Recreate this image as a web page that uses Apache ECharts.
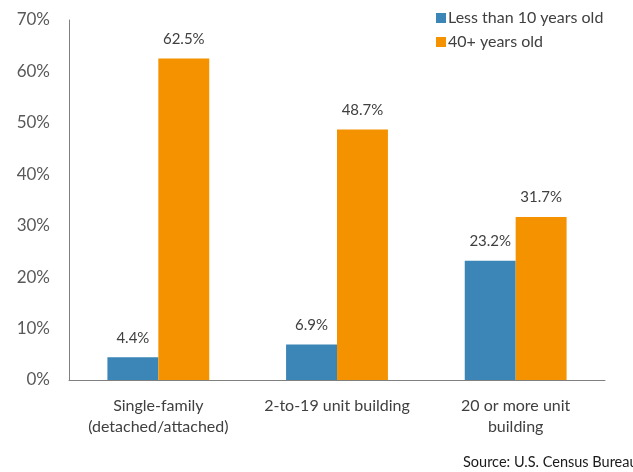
<!DOCTYPE html>
<html>
<head>
<meta charset="utf-8">
<script src="https://cdn.jsdelivr.net/npm/echarts@6/dist/echarts.min.js"></script>
<style>
  html, body { margin: 0; padding: 0; background: #fff; }
  #chart { width: 633px; height: 472px; }
</style>
</head>
<body>
<div id="chart"></div>
<script>
// Housing units by building type and age of structure
const categories = ['Single-family\n(detached/attached)', '2-to-19 unit building', '20 or more unit\nbuilding'];
const seriesNames = ['Less than 10 years old', '40+ years old'];
const newerShare = [4.4, 6.9, 23.2];
const olderShare = [62.5, 48.7, 31.7];
const yTicks = [0, 10, 20, 30, 40, 50, 60, 70];
const sourceNote = 'Source: U.S. Census Bureau';

const FONT = 'Lato, "Open Sans", sans-serif';
const chart = echarts.init(document.getElementById('chart'), null, { renderer: 'canvas' });

const labelStyle = {
  show: true,
  position: 'top',
  distance: 12,
  formatter: p => p.value.toFixed(1) + '%',
  color: '#404040',
  fontSize: 15,
  fontFamily: FONT
};

chart.setOption({
  animation: false,
  backgroundColor: '#ffffff',
  grid: { left: 69, right: 28, top: 20, bottom: 92, containLabel: false },
  legend: {
    orient: 'vertical',
    left: 431,
    top: 5,
    itemWidth: 10,
    itemHeight: 10,
    itemGap: 8,
    icon: 'rect',
    textStyle: { color: '#404040', fontSize: 16, fontFamily: FONT, padding: [0, 0, 0, -3] },
    data: seriesNames
  },
  xAxis: {
    type: 'category',
    data: categories,
    axisLine: { show: true, lineStyle: { color: '#808080', width: 1 } },
    axisTick: { show: false },
    axisLabel: {
      color: '#404040',
      fontSize: 16,
      fontFamily: FONT,
      lineHeight: 21,
      margin: 15,
      interval: 0
    }
  },
  yAxis: {
    type: 'value',
    min: yTicks[0],
    max: yTicks[yTicks.length - 1],
    interval: 10,
    axisLine: { show: true, lineStyle: { color: '#808080', width: 1 } },
    axisTick: { show: false },
    splitLine: { show: false },
    axisLabel: {
      formatter: v => v + '%',
      color: '#595959',
      fontSize: 17,
      fontFamily: FONT,
      margin: 19
    }
  },
  series: [
    {
      name: seriesNames[0],
      type: 'bar',
      data: newerShare,
      barGap: '0%',
      barCategoryGap: '43%',
      itemStyle: { color: '#3B86B6' },
      label: labelStyle
    },
    {
      name: seriesNames[1],
      type: 'bar',
      data: olderShare,
      barGap: '0%',
      barCategoryGap: '43%',
      itemStyle: { color: '#F49200' },
      label: labelStyle
    }
  ],
  graphic: [
    {
      type: 'text',
      left: 463,
      top: 455,
      style: { text: sourceNote, fill: '#1a1a1a', fontSize: 14.5, fontFamily: FONT }
    }
  ]
});
</script>
</body>
</html>
